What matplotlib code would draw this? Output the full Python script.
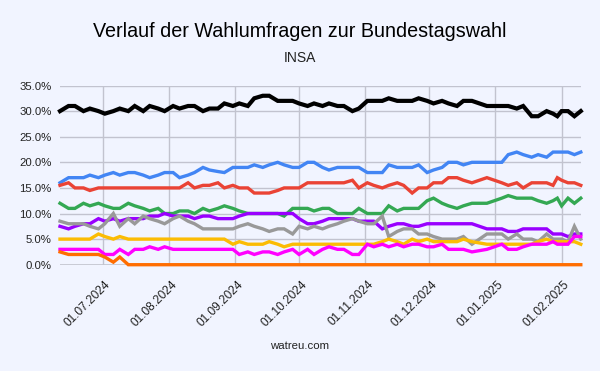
import matplotlib
matplotlib.use("Agg")
import matplotlib.pyplot as plt
import matplotlib.dates as mdates
import matplotlib.ticker as mticker
import matplotlib.transforms as mtransforms
import pandas as pd

dates = ["2024-06-11", "2024-06-15", "2024-06-18", "2024-06-22", "2024-06-25", "2024-06-29",
         "2024-07-02", "2024-07-06", "2024-07-09", "2024-07-13", "2024-07-16", "2024-07-20",
         "2024-07-23", "2024-07-27", "2024-07-30", "2024-08-03", "2024-08-06", "2024-08-10",
         "2024-08-13", "2024-08-17", "2024-08-20", "2024-08-24", "2024-08-27", "2024-08-31",
         "2024-09-03", "2024-09-07", "2024-09-10", "2024-09-14", "2024-09-17", "2024-09-21",
         "2024-09-24", "2024-09-28", "2024-10-01", "2024-10-05", "2024-10-08", "2024-10-12",
         "2024-10-15", "2024-10-19", "2024-10-22", "2024-10-26", "2024-10-29", "2024-11-02",
         "2024-11-05", "2024-11-09", "2024-11-12", "2024-11-16", "2024-11-19", "2024-11-23",
         "2024-11-26", "2024-11-30", "2024-12-03", "2024-12-07", "2024-12-10", "2024-12-14",
         "2024-12-17", "2024-12-21", "2024-12-28", "2025-01-04", "2025-01-07", "2025-01-11",
         "2025-01-14", "2025-01-18", "2025-01-21", "2025-01-25", "2025-01-28", "2025-01-30",
         "2025-02-01", "2025-02-04", "2025-02-07", "2025-02-10"]

union = [30, 31, 31, 30, 30.5, 30, 29.5, 30, 30.5, 30, 31, 30, 31, 30.5, 30, 31, 30.5, 31,
         31, 30, 30.5, 30.5, 31.5, 31, 31.5, 31, 32.5, 33, 33, 32, 32, 32, 31.5, 31, 31.5, 31,
         31.5, 31, 31, 30, 30.5, 32, 32, 32, 32.5, 32, 32, 32, 32.5, 32, 31.5, 32, 31.5, 31,
         32, 32, 31, 31, 31, 30.5, 31, 29, 29, 30, 29.5, 29, 30, 30, 29, 30]
afd = [16, 17, 17, 17, 17.5, 17, 17.5, 18, 17.5, 18, 18, 17.5, 17, 17.5, 18, 18, 17, 17.5,
       18, 19, 18.5, 18.2, 18, 19, 19, 19, 19.5, 19, 19.5, 20, 19.5, 19, 19, 20, 20, 19,
       18.5, 19, 19, 19, 19, 18, 18, 18, 19.5, 19, 19, 19, 19.5, 18, 18.5, 19, 20, 20,
       19.5, 20, 20, 20, 21.5, 22, 21.5, 21, 21.5, 21, 22, 22, 22, 22, 21.5, 22]
spd = [15.5, 16, 15, 15, 14.5, 15, 15, 15, 15, 15, 15, 15, 15, 15, 15, 15, 15, 16,
       15, 15.5, 15.5, 16, 15, 15.5, 15, 15, 14, 14, 14, 14.5, 15, 15, 15, 16, 16, 16,
       16, 16, 16, 16.5, 15, 16, 15.5, 15, 15.5, 16, 15.5, 14, 15, 15, 16, 16, 17, 17,
       16.5, 16, 17, 16, 15.5, 16, 15, 16, 16, 16, 15.5, 17, 16.5, 16, 16, 15.5]
gruene = [12, 11, 11, 12, 11.5, 12, 11.5, 11, 11, 12, 11.5, 11, 10.5, 11, 10, 10, 10.5, 10.5,
          10, 11, 10.5, 11, 11.5, 11, 10.5, 10, 10, 10, 10, 10, 9.5, 11, 11, 11, 10.5, 11,
          11, 10, 10, 10, 11, 10, 10, 10, 11.5, 10.5, 11, 11, 11, 12.5, 13, 12, 11.5, 11,
          11.5, 12, 12, 13, 13.5, 13, 13, 13, 12.5, 12, 12.5, 13, 11.5, 13, 12, 13]
bsw = [7.5, 7, 7.5, 8, 8, 9, 8.5, 9, 8.5, 9, 9, 9, 9.5, 9.5, 10, 9.5, 9.5, 9.5,
       9, 9.5, 9.5, 9, 9, 9, 9.5, 10, 10, 10, 10, 10, 10, 10, 9, 8, 8, 8.5,
       9, 9, 9, 9, 8.5, 8.5, 8.5, 7, 7.5, 8, 8, 7.5, 7.5, 8, 8, 8, 8, 8,
       8, 8, 7, 7, 6.5, 6.5, 7, 7, 7, 7, 6, 6, 6, 5.5, 6, 6]
sonstige = [8.5, 8, 8, 8, 7.5, 7, 8, 10, 7.5, 9, 8, 9.5, 9, 8.5, 8, 9, 9.5, 8.5,
            8, 7, 7, 7, 7, 7, 7.5, 8, 7.5, 7, 6.5, 7, 7, 6, 7.5, 7, 7.5, 7,
            7.5, 8, 8.5, 9, 8.5, 8, 8, 9.5, 5.5, 6.5, 7, 7, 6, 6, 5.5, 5, 5, 5,
            5.5, 4, 6, 6, 5, 6, 5, 5, 4.5, 6, 5, 5, 5, 4.5, 7.5, 5]
fdp = [5, 5, 5, 5, 5, 6, 5.5, 5, 5.5, 5, 5, 5, 5, 5, 5, 5, 5, 5,
       5, 5, 5, 5, 5, 4, 4.5, 4, 4, 4, 4.5, 4, 3.5, 4, 4, 4, 4, 4,
       4, 4, 4, 4, 4, 4, 4, 4.5, 5, 4.5, 4, 5, 4.5, 5, 4.5, 4.5, 4.5, 4.5,
       5, 4.5, 4, 4, 4, 4, 4, 4, 4.5, 5, 4.5, 4.5, 4.5, 4.5, 4.5, 4]
linke = [3, 3, 3, 3, 3, 3, 2, 2, 3, 2, 3, 3, 3.5, 3, 3.5, 3, 3, 3,
         3, 3, 3, 3, 3, 3, 2, 2.5, 2, 2.5, 2.5, 2, 2.5, 3, 2, 3, 2, 3,
         3.5, 3, 3, 2, 2, 4, 3.5, 4, 3.5, 4, 3.5, 4, 4, 3.5, 3.5, 4, 3, 3,
         3, 2.5, 3, 4, 3, 3, 3.5, 4, 4, 4, 4.5, 4, 4, 4, 5.5, 5.5]
fw = [2.5, 2, 2, 2, 2, 2, 1.5, 0.5, 1.5, 0, 0, 0, 0, 0, 0, 0, 0, 0,
      0, 0, 0, 0, 0, 0, 0, 0, 0, 0, 0, 0, 0, 0, 0, 0, 0, 0,
      0, 0, 0, 0, 0, 0, 0, 0, 0, 0, 0, 0, 0, 0, 0, 0, 0, 0,
      0, 0, 0, 0, 0, 0, 0, 0, 0, 0, 0, 0, 0, 0, 0, 0]

series_names = ["CDU/CSU", "AfD", "SPD", "Grüne", "BSW", "Sonstige", "FDP", "Linke", "FW"]
series_values = [union, afd, spd, gruene, bsw, sonstige, fdp, linke, fw]
series_colors = ["#000000", "#4285F4", "#EA4335", "#34A853", "#9900FF", "#999999",
                 "#FBBC04", "#FF00FF", "#FF6D01"]
y_ticks = [0, 5, 10, 15, 20, 25, 30, 35]

BG = "#F1F4FF"
plt.rcParams["font.family"] = ["Liberation Sans", "DejaVu Sans"]

x = pd.to_datetime(dates)

fig = plt.figure(figsize=(6.0, 3.71), dpi=100, facecolor=BG)
ax = fig.add_axes([0.1, 0.2865, 0.868, 0.483])
ax.set_facecolor(BG)

for i, (vals, col) in enumerate(zip(series_values, series_colors)):
    lw = 3.0 if i == 0 else 2.4
    ax.plot(x, vals, color=col, lw=lw, solid_joinstyle="miter",
            zorder=3 + i * 0.01, label=series_names[i], clip_on=False)

ax.set_xlim(x[0], x[-1])
ax.set_ylim(0, 35)
ax.set_yticks(y_ticks)
ax.yaxis.set_major_formatter(mticker.FuncFormatter(lambda v, p: f"{v:.1f}%"))
ax.xaxis.set_major_locator(mdates.MonthLocator())
ax.xaxis.set_major_formatter(mdates.DateFormatter("%d.%m.%Y"))

ax.grid(True, color="#C2C3CF", lw=1.0, zorder=0)
ax.axhline(0, color="#333333", lw=1.0, zorder=1)
for s in ax.spines.values():
    s.set_visible(False)
ax.tick_params(axis="both", length=0, labelsize=8.2, colors="#222222")
ax.tick_params(axis="y", pad=6)
ax.tick_params(axis="x", pad=4)

offset = mtransforms.ScaledTranslation(2 / 100, -8 / 100, fig.dpi_scale_trans)
for lbl in ax.get_xticklabels():
    lbl.set_rotation(45)
    lbl.set_ha("right")
    lbl.set_va("top")
    lbl.set_rotation_mode("anchor")
    lbl.set_fontsize(8.6)
    lbl.set_transform(lbl.get_transform() + offset)

fig.text(0.5, 1 - 31.5 / 371, "Verlauf der Wahlumfragen zur Bundestagswahl", ha="center",
         va="center", fontsize=14.2, color="#000000")
fig.text(0.5, 1 - 58.5 / 371, "INSA", ha="center", va="center", fontsize=10, color="#222222")
fig.text(0.5, 1 - 346 / 371, "watreu.com", ha="center", va="center", fontsize=8.2,
         color="#222222")

fig.savefig("out.png", dpi=100, facecolor=BG)
